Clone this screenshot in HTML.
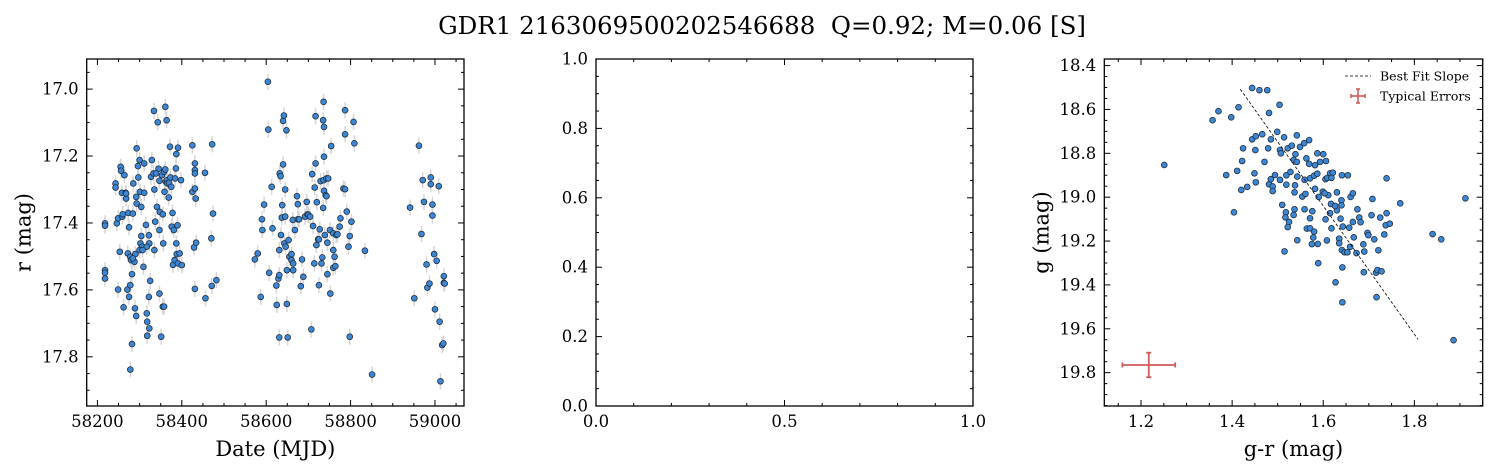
<!DOCTYPE html>
<html><head><meta charset="utf-8"><style>
html,body{margin:0;padding:0;background:#fff;}
svg{display:block;font-family:"DejaVu Serif","Liberation Serif",serif;}
</style></head><body>
<svg id="fig" width="1497" height="473" viewBox="0 0 1497 473" xmlns="http://www.w3.org/2000/svg">
<rect width="1497" height="473" fill="#fff"/>
<text x="762" y="34" font-size="24.5" text-anchor="middle" xml:space="preserve">GDR1 2163069500202546688  Q=0.92; M=0.06 [S]</text>
</svg>
<script>
// Light curve data (MJD, r mag)
const lcDates = [58218,58218,58218,58218,58218,58243,58243,58246,58249,58249,58253,58255,58256,58258,58259,58260,58262,58264,58267,58268,58268,58271,58272,58273,58275,58275,58278,58278,58278,58280,58282,58282,58284,58285,58288,58289,58290,58292,58293,58293,58296,58297,58300,58301,58302,58304,58304,58306,58309,58311,58311,58315,58317,58318,58318,58322,58322,58323,58325,58327,58329,58333,58334,58335,58335,58337,58341,58343,58345,58347,58347,58348,58351,58353,58355,58355,58356,58358,58358,58359,58361,58361,58362,58364,58365,58366,58369,58370,58372,58373,58375,58376,58378,58379,58381,58383,58384,58386,58388,58387,58390,58391,58391,58395,58387,58398,58323,58284,58292,58339,58300,58317,58307,58347,58400,
58425,58425,58429,58433,58434,58431,58431,58431,58431,58431,58455,58456,58470,58471,58472,58474,58482,
58573,58580,58587,58590,58591,58595,58604,58605,58607,58613,58615,58624,58625,58629,58631,58631,58631,58632,58634,58635,58637,58638,58640,58640,58642,58643,58645,58645,58646,58648,58649,58649,58651,58653,58655,58660,58660,58664,58664,58663,58668,58673,58675,58675,58678,58682,58685,58688,58692,58696,58698,58700,58704,58707,58709,58711,58714,58715,58717,58717,58719,58720,58723,58725,58725,58727,58729,58731,58733,58735,58735,58736,58736,58737,58737,58737,58739,58741,58743,58743,58745,58745,58747,58751,58752,58754,58759,58759,58759,58762,58764,58766,58769,58774,58776,58783,58787,58787,58787,58791,58795,58798,58802,58798,58807,58809,58834,58851,
58941,58951,58962,58968,58971,58974,58980,58982,58987,58990,58990,58994,58994,58998,59000,59004,59009,59011,59013,59017,59020,59021,59021,59023];
const lcMags = [17.401,17.408,17.541,17.549,17.566,17.282,17.294,17.401,17.386,17.599,17.486,17.232,17.244,17.310,17.381,17.374,17.652,17.257,17.310,17.327,17.312,17.599,17.491,17.370,17.413,17.621,17.501,17.586,17.838,17.511,17.553,17.762,17.372,17.282,17.516,17.655,17.493,17.678,17.177,17.342,17.230,17.264,17.212,17.307,17.461,17.439,17.352,17.471,17.531,17.310,17.222,17.406,17.670,17.695,17.737,17.437,17.621,17.715,17.573,17.262,17.212,17.252,17.065,17.300,17.481,17.396,17.352,17.099,17.238,17.274,17.421,17.367,17.740,17.257,17.650,17.374,17.461,17.650,17.247,17.307,17.053,17.240,17.277,17.093,17.272,17.282,17.324,17.280,17.172,17.264,17.292,17.411,17.370,17.525,17.421,17.511,17.267,17.237,17.493,17.194,17.407,17.175,17.521,17.491,17.461,17.272,17.461,17.506,17.322,17.252,17.481,17.471,17.481,17.611,17.526,
17.168,17.307,17.473,17.327,17.459,17.222,17.242,17.252,17.297,17.597,17.250,17.625,17.446,17.588,17.165,17.372,17.571,
17.509,17.491,17.621,17.389,17.421,17.345,16.978,17.121,17.549,17.292,17.416,17.587,17.645,17.566,17.481,17.556,17.742,17.252,17.260,17.436,17.384,17.347,17.225,17.095,17.079,17.461,17.381,17.300,17.471,17.123,17.541,17.642,17.742,17.451,17.501,17.511,17.493,17.521,17.541,17.391,17.421,17.320,17.344,17.389,17.389,17.589,17.509,17.561,17.381,17.337,17.374,17.376,17.381,17.718,17.254,17.409,17.521,17.294,17.081,17.222,17.466,17.338,17.449,17.449,17.586,17.419,17.275,17.521,17.503,17.093,17.355,17.272,17.038,17.202,17.304,17.113,17.436,17.317,17.267,17.320,17.553,17.459,17.267,17.421,17.611,17.170,17.431,17.534,17.481,17.501,17.529,17.436,17.434,17.411,17.386,17.297,17.299,17.063,17.135,17.366,17.471,17.740,17.396,17.439,17.098,17.162,17.483,17.853,
17.354,17.625,17.169,17.433,17.272,17.337,17.524,17.593,17.581,17.264,17.284,17.345,17.378,17.493,17.658,17.513,17.290,17.695,17.873,17.765,17.760,17.559,17.579,17.581];
const lcErr = 0.024;
const lcXTicks = [58200,58400,58600,58800,59000];
const lcYTicks = [17.0,17.2,17.4,17.6,17.8];

// Colour-magnitude data (g-r, g)
const cmColor = [1.251,1.357,1.370,1.398,1.414,1.444,1.460,1.477,1.481,1.504,1.387,1.411,1.422,1.424,1.420,1.433,1.404,1.444,1.452,1.466,1.451,1.449,1.452,1.471,1.479,1.485,1.499,1.514,1.505,1.507,1.522,1.531,1.542,1.549,1.558,1.569,1.539,1.535,1.542,1.563,1.569,1.582,1.587,1.600,1.593,1.606,1.481,1.485,1.489,1.489,1.494,1.505,1.519,1.519,1.528,1.538,1.537,1.543,1.559,1.571,1.580,1.587,1.554,1.561,1.582,1.590,1.599,1.605,1.609,1.615,1.621,1.618,1.611,1.603,1.630,1.641,1.654,1.640,1.617,1.630,1.615,1.626,1.640,1.660,1.665,1.675,1.510,1.518,1.537,1.517,1.525,1.522,1.535,1.559,1.576,1.571,1.564,1.571,1.580,1.578,1.575,1.588,1.543,1.515,1.605,1.618,1.608,1.638,1.643,1.657,1.635,1.635,1.641,1.647,1.653,1.659,1.667,1.665,1.679,1.682,1.688,1.690,1.673,1.697,1.699,1.706,1.708,1.712,1.721,1.725,1.734,1.737,1.739,1.746,1.739,1.769,1.689,1.716,1.719,1.728,1.642,1.627,1.642,1.717,1.589,1.840,1.859,1.912,1.886];
const cmMag = [18.853,18.649,18.608,18.636,18.590,18.502,18.512,18.512,18.616,18.579,18.899,18.880,18.835,18.777,18.967,18.953,19.069,18.736,18.722,18.713,18.785,18.891,18.932,18.839,18.777,18.736,18.702,18.727,18.785,18.800,18.777,18.765,18.718,18.771,18.754,18.740,18.804,18.830,18.839,18.823,18.848,18.854,18.800,18.804,18.839,18.835,18.941,18.918,18.951,18.972,18.899,18.921,18.943,18.900,18.885,18.946,18.978,18.906,18.921,18.914,18.902,18.893,18.997,18.985,18.962,18.999,18.975,18.918,18.912,18.891,18.888,18.912,18.991,18.982,18.978,18.900,18.900,19.014,19.031,19.060,19.073,19.040,19.037,18.999,18.982,19.055,19.035,19.069,19.055,19.092,19.113,19.136,19.081,19.055,19.064,19.096,19.143,19.142,19.157,19.184,19.214,19.213,19.196,19.247,19.101,19.142,19.197,19.098,19.134,19.139,19.189,19.210,19.241,19.251,19.251,19.226,19.183,19.113,19.093,19.114,19.215,19.248,19.255,19.163,19.173,19.082,19.008,19.192,19.242,19.093,19.170,19.128,19.073,19.121,18.914,19.028,19.342,19.344,19.332,19.338,19.320,19.388,19.479,19.456,19.301,19.168,19.192,19.005,19.652];
const fitColor = [1.418,1.808];
const fitMag = [18.508,19.648];
const typErr = {c:1.217, m:19.765, ce:0.058, me:0.056};
const cmXTicks = [1.2,1.4,1.6,1.8];
const cmYTicks = [18.4,18.6,18.8,19.0,19.2,19.4,19.6,19.8];
const midXTicks = [0.0,0.5,1.0];
const midYTicks = [0.0,0.2,0.4,0.6,0.8,1.0];

const NS='http://www.w3.org/2000/svg';
const svg=document.getElementById('fig');
function mk(tag,attrs,parent){const e=document.createElementNS(NS,tag);for(const k in attrs)e.setAttribute(k,attrs[k]);(parent||svg).appendChild(e);return e;}

function axes(name,L,R,T,B,x0,x1,y0,y1,xt,xminor,yt,yminor,fmtx,fmty,xlabel,ylabel){
  const g=mk('g',{});
  
  
  const sx=v=>L+(v-x0)/(x1-x0)*(R-L);
  const sy=v=>T+(v-y0)/(y1-y0)*(B-T);
  const tg=mk('g',{stroke:'#000','stroke-width':1},g);
  
  
  const lo=Math.min(x0,x1),hi=Math.max(x0,x1);
  for(let v=Math.ceil(lo/xminor-1e-6)*xminor;v<=hi+1e-9;v+=xminor){const x=sx(v);const maj=xt.some(t=>Math.abs(t-v)<xminor/10);const l=maj?6:3;
    mk('line',{x1:x,x2:x,y1:B,y2:B-l},tg);mk('line',{x1:x,x2:x,y1:T,y2:T+l},tg);}
  const ylo=Math.min(y0,y1),yhi=Math.max(y0,y1);
  for(let v=Math.ceil(ylo/yminor-1e-6)*yminor;v<=yhi+1e-9;v+=yminor){const y=sy(v);const maj=yt.some(t=>Math.abs(t-v)<yminor/10);const l=maj?6:3;
    mk('line',{x1:L,x2:L+l,y1:y,y2:y},tg);mk('line',{x1:R,x2:R-l,y1:y,y2:y},tg);}
  xt.forEach(v=>{const t=mk('text',{x:sx(v),y:B+21,'font-size':16.5,'text-anchor':'middle'},g);t.textContent=fmtx(v);
    
    });
  yt.forEach(v=>{const t=mk('text',{x:L-8,y:sy(v)+5.5,'font-size':16.5,'text-anchor':'end'},g);t.textContent=fmty(v);
    
    });
  const fr=mk('rect',{x:L,y:T,width:R-L,height:B-T,fill:'none',stroke:'#000','stroke-width':1.3},g);
  
  
  if(xlabel){const t=mk('text',{x:(L+R)/2,y:B+50,'font-size':21,'text-anchor':'middle'},g);t.textContent=xlabel;
    
    }
  if(ylabel){const cx=L-56,cy=(T+B)/2;const t=mk('text',{x:cx,y:cy,'font-size':21,'text-anchor':'middle',transform:`rotate(-90 ${cx} ${cy})`},g);t.textContent=ylabel;
    
    }
  return {sx,sy,g};
}

// Left panel
const A=axes('light-curve-panel',86.7,464,59,406,58174.6,59068.8,16.910,17.947,lcXTicks,50,lcYTicks,0.05,v=>String(v),v=>v.toFixed(1),'Date (MJD)','r (mag)');
const eg=mk('g',{stroke:'#d6d6d6','stroke-width':1.5});


const pg=mk('g',{fill:'#3d86d3',stroke:'#1f2f40','stroke-width':0.8});


lcDates.forEach((d,i)=>{const x=A.sx(d);
  mk('line',{x1:x,x2:x,y1:A.sy(lcMags[i]-lcErr),y2:A.sy(lcMags[i]+lcErr)},eg);
  const c=mk('circle',{cx:x,cy:A.sy(lcMags[i]),r:2.9},pg);
  
  });

// Middle panel (empty)
axes('empty-panel',596,973,59,406,0,1,1,0,midXTicks,0.1,midYTicks,0.05,v=>v.toFixed(1),v=>v.toFixed(1),'','');

// Right panel
const C=axes('color-magnitude-panel',1104.3,1482.7,59,406,1.1194,1.950,18.370,19.952,cmXTicks,0.05,cmYTicks,0.05,v=>v.toFixed(1),v=>v.toFixed(1),'g-r (mag)','g (mag)');
const cg=mk('g',{fill:'#3d86d3',stroke:'#1f2f40','stroke-width':0.8});


cmColor.forEach((c,i)=>{const p=mk('circle',{cx:C.sx(c),cy:C.sy(cmMag[i]),r:2.9},cg);
  
  });
const fl=mk('line',{x1:C.sx(fitColor[0]),y1:C.sy(fitMag[0]),x2:C.sx(fitColor[1]),y2:C.sy(fitMag[1]),stroke:'#000','stroke-width':0.8,'stroke-dasharray':'3,2'});


const te=mk('g',{stroke:'#d05a5a','stroke-width':1.8});


{const x=C.sx(typErr.c),y=C.sy(typErr.m),xa=C.sx(typErr.c-typErr.ce),xb=C.sx(typErr.c+typErr.ce),ya=C.sy(typErr.m-typErr.me),yb=C.sy(typErr.m+typErr.me);
 mk('line',{x1:xa,x2:xb,y1:y,y2:y},te);mk('line',{x1:x,x2:x,y1:ya,y2:yb},te);
 mk('line',{x1:xa,x2:xa,y1:y-2.5,y2:y+2.5},te);mk('line',{x1:xb,x2:xb,y1:y-2.5,y2:y+2.5},te);
 mk('line',{x1:x-2.5,x2:x+2.5,y1:ya,y2:ya},te);mk('line',{x1:x-2.5,x2:x+2.5,y1:yb,y2:yb},te);}
// Legend
const lg=mk('g',{});


mk('line',{x1:1345,x2:1371,y1:76,y2:76,stroke:'#000','stroke-width':0.8,'stroke-dasharray':'3,2'},lg);
let t1=mk('text',{x:1380,y:80.5,'font-size':12.5},lg);t1.textContent='Best Fit Slope';


const lgE=mk('g',{stroke:'#d05a5a','stroke-width':1.6},lg);
mk('line',{x1:1351,x2:1365,y1:96,y2:96},lgE);mk('line',{x1:1358,x2:1358,y1:89,y2:103},lgE);
mk('line',{x1:1351,x2:1351,y1:94,y2:98},lgE);mk('line',{x1:1365,x2:1365,y1:94,y2:98},lgE);
mk('line',{x1:1356,x2:1360,y1:89,y2:89},lgE);mk('line',{x1:1356,x2:1360,y1:103,y2:103},lgE);
let t2=mk('text',{x:1380,y:100.5,'font-size':12.5},lg);t2.textContent='Typical Errors';


</script>
</body></html>
